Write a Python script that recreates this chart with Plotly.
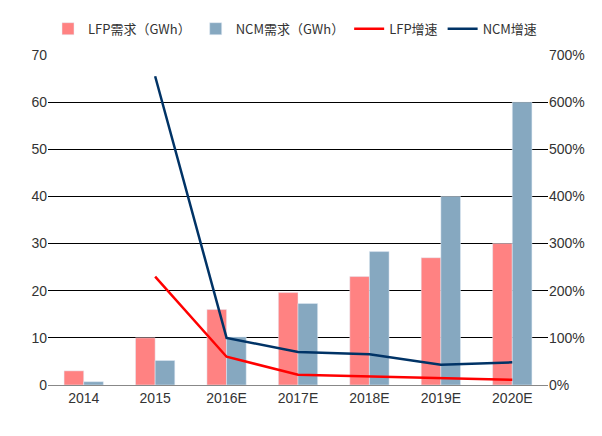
import plotly.graph_objects as go

years = ["2014", "2015", "2016E", "2017E", "2018E", "2019E", "2020E"]
lfp = [3, 10, 16, 19.6, 23, 27, 30]
ncm = [0.7, 5.2, 10.2, 17.3, 28.3, 40, 60]
lfp_growth = [None, 2.30, 0.60, 0.22, 0.18, 0.15, 0.11]
ncm_growth = [None, 6.55, 1.00, 0.70, 0.65, 0.43, 0.48]

fig = go.Figure()
fig.add_trace(go.Bar(x=years, y=lfp, name="LFP需求（GWh）", marker_color="#FF8282"))
fig.add_trace(go.Bar(x=years, y=ncm, name="NCM需求（GWh）", marker_color="#86A8C0"))
fig.add_trace(go.Scatter(x=years, y=lfp_growth, name="LFP增速", yaxis="y2",
                         mode="lines", line=dict(color="#FF0000", width=2.5)))
fig.add_trace(go.Scatter(x=years, y=ncm_growth, name="NCM增速", yaxis="y2",
                         mode="lines", line=dict(color="#003366", width=2.5)))

fig.update_layout(
    width=602, height=436,
    margin=dict(l=40, r=62, t=47, b=59, autoexpand=False),
    plot_bgcolor="white", paper_bgcolor="white",
    font=dict(family="Liberation Sans, Noto Sans CJK SC", size=14, color="#333"),
    barmode="group", bargap=0.45, bargroupgap=0.0,
    legend=dict(orientation="h", x=0, y=1.125, xanchor="left", yanchor="top",
                font=dict(size=13, family="Noto Sans CJK SC"), traceorder="normal",
                itemwidth=30),
    xaxis=dict(showline=True, linecolor="#888", ticks=""),
    yaxis=dict(range=[0, 70], dtick=10, showgrid=True, gridcolor="black",
               gridwidth=1, zeroline=False),
    yaxis2=dict(overlaying="y", side="right", range=[0, 7], dtick=1,
                tickformat=".0%", showgrid=False, zeroline=False),
)
fig.write_html("out.html")
